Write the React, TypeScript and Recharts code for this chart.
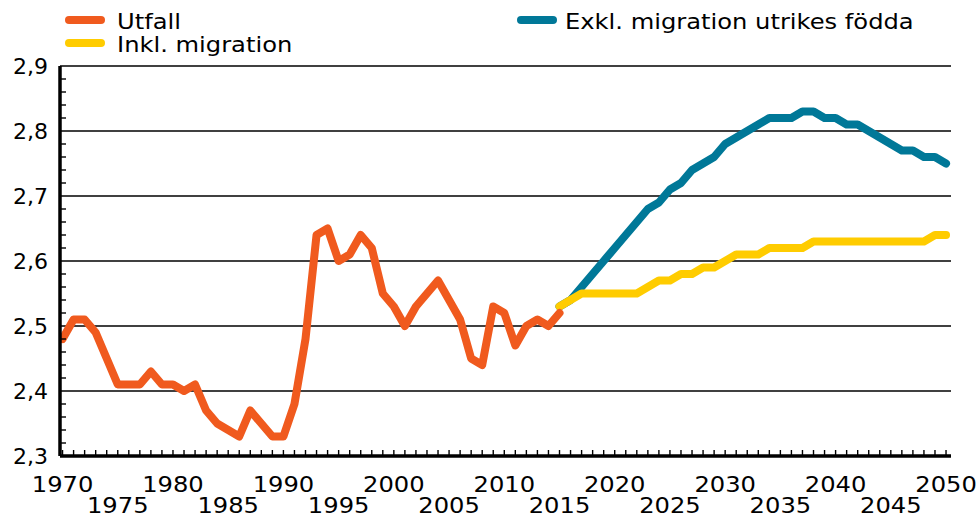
import React from "react";
import { LineChart, Line, XAxis, YAxis, CartesianGrid } from "recharts";

const utfallYears = [
  1970, 1971, 1972, 1973, 1974, 1975, 1976, 1977, 1978, 1979, 1980, 1981, 1982, 1983, 1984, 1985,
  1986, 1987, 1988, 1989, 1990, 1991, 1992, 1993, 1994, 1995, 1996, 1997, 1998, 1999, 2000, 2001,
  2002, 2003, 2004, 2005, 2006, 2007, 2008, 2009, 2010, 2011, 2012, 2013, 2014, 2015,
];
const utfall = [
  2.48, 2.51, 2.51, 2.49, 2.45, 2.41, 2.41, 2.41, 2.43, 2.41, 2.41, 2.4, 2.41, 2.37, 2.35, 2.34,
  2.33, 2.37, 2.35, 2.33, 2.33, 2.38, 2.48, 2.64, 2.65, 2.6, 2.61, 2.64, 2.62, 2.55, 2.53, 2.5,
  2.53, 2.55, 2.57, 2.54, 2.51, 2.45, 2.44, 2.53, 2.52, 2.47, 2.5, 2.51, 2.5, 2.52,
];

const prognosYears = [
  2015, 2016, 2017, 2018, 2019, 2020, 2021, 2022, 2023, 2024, 2025, 2026, 2027, 2028, 2029, 2030,
  2031, 2032, 2033, 2034, 2035, 2036, 2037, 2038, 2039, 2040, 2041, 2042, 2043, 2044, 2045, 2046,
  2047, 2048, 2049, 2050,
];
const inklMigration = [
  2.53, 2.54, 2.55, 2.55, 2.55, 2.55, 2.55, 2.55, 2.56, 2.57, 2.57, 2.58, 2.58, 2.59, 2.59, 2.6,
  2.61, 2.61, 2.61, 2.62, 2.62, 2.62, 2.62, 2.63, 2.63, 2.63, 2.63, 2.63, 2.63, 2.63, 2.63, 2.63,
  2.63, 2.63, 2.64, 2.64,
];
const exklMigration = [
  2.53, 2.54, 2.56, 2.58, 2.6, 2.62, 2.64, 2.66, 2.68, 2.69, 2.71, 2.72, 2.74, 2.75, 2.76, 2.78,
  2.79, 2.8, 2.81, 2.82, 2.82, 2.82, 2.83, 2.83, 2.82, 2.82, 2.81, 2.81, 2.8, 2.79, 2.78, 2.77,
  2.77, 2.76, 2.76, 2.75,
];

const xTicks = [
  1970, 1971, 1972, 1973, 1974, 1975, 1976, 1977, 1978, 1979, 1980, 1981, 1982, 1983, 1984, 1985,
  1986, 1987, 1988, 1989, 1990, 1991, 1992, 1993, 1994, 1995, 1996, 1997, 1998, 1999, 2000, 2001,
  2002, 2003, 2004, 2005, 2006, 2007, 2008, 2009, 2010, 2011, 2012, 2013, 2014, 2015, 2016, 2017,
  2018, 2019, 2020, 2021, 2022, 2023, 2024, 2025, 2026, 2027, 2028, 2029, 2030, 2031, 2032, 2033,
  2034, 2035, 2036, 2037, 2038, 2039, 2040, 2041, 2042, 2043, 2044, 2045, 2046, 2047, 2048, 2049,
  2050,
];
const yTicks = [
  2.3, 2.32, 2.34, 2.36, 2.38, 2.4, 2.42, 2.44, 2.46, 2.48, 2.5, 2.52, 2.54, 2.56, 2.58, 2.6,
  2.62, 2.64, 2.66, 2.68, 2.7, 2.72, 2.74, 2.76, 2.78, 2.8, 2.82, 2.84, 2.86, 2.88, 2.9,
];
const gridValues = [2.4, 2.5, 2.6, 2.7, 2.8, 2.9];

const COLORS = { utfall: "#F05A1E", inkl: "#FFCC00", exkl: "#007898" };
const FONT = "'DejaVu Sans', sans-serif";

const data = xTicks.map((year) => {
  const ui = utfallYears.indexOf(year);
  const pi = prognosYears.indexOf(year);
  return {
    year,
    utfall: ui >= 0 ? utfall[ui] : null,
    inkl: pi >= 0 ? inklMigration[pi] : null,
    exkl: pi >= 0 ? exklMigration[pi] : null,
  };
});

const XTick = (props: any) => {
  const { x, y, payload } = props;
  const yr = payload.value as number;
  return (
    <g>
      <line x1={x} x2={x} y1={y} y2={y - 6} stroke="#000" strokeWidth={1.4} />
      {yr % 5 === 0 && (
        <text
          transform={`translate(${x},${yr % 10 === 0 ? y + 36 : y + 57}) scale(1.1,1)`}
          x={0}
          y={0}
          textAnchor="middle"
          fontFamily={FONT}
          fontSize={22}
          fill="#000"
        >
          {yr}
        </text>
      )}
    </g>
  );
};

const YTick = (props: any) => {
  const { x, y, payload } = props;
  const v = payload.value as number;
  const major = Math.abs(v * 10 - Math.round(v * 10)) < 1e-6;
  return (
    <g>
      {!major && <line x1={x} x2={x + 6} y1={y} y2={y} stroke="#000" strokeWidth={1.4} />}
      {major && (
        <text
          x={x - 12}
          y={y + 8}
          textAnchor="end"
          fontFamily={FONT}
          fontSize={22}
          fill="#000"
        >
          {v.toFixed(1).replace(".", ",")}
        </text>
      )}
    </g>
  );
};

const legendItems = [
  { label: "Utfall", color: COLORS.utfall, x: 65, y: 20, tx: 117 },
  { label: "Inkl. migration", color: COLORS.inkl, x: 65, y: 43, tx: 117 },
  { label: "Exkl. migration utrikes födda", color: COLORS.exkl, x: 517, y: 20, tx: 565 },
];

export default function App() {
  return (
    <div style={{ position: "absolute", left: 0, top: 0, width: 979, height: 517, background: "#fff" }}>
      <LineChart
        width={979}
        height={517}
        data={data}
        margin={{ top: 66, right: 28, bottom: 31, left: 0 }}
      >
        <CartesianGrid
          horizontal={true}
          vertical={false}
          horizontalValues={gridValues}
          stroke="#000"
          strokeWidth={1.3}
        />
        <XAxis
          dataKey="year"
          type="number"
          domain={[1969.77, 2050.45]}
          ticks={xTicks}
          interval={0}
          height={30}
          tickSize={0}
          tickMargin={0}
          tickLine={false}
          tick={<XTick />}
          axisLine={{ stroke: "#000", strokeWidth: 3.5 }}
          allowDataOverflow
        />
        <YAxis
          type="number"
          domain={[2.3, 2.9]}
          ticks={yTicks}
          interval={0}
          width={60}
          tickSize={0}
          tickMargin={0}
          tickLine={false}
          tick={<YTick />}
          axisLine={{ stroke: "#000", strokeWidth: 3.5 }}
          allowDataOverflow
        />
        <Line
          dataKey="exkl"
          stroke={COLORS.exkl}
          strokeWidth={8}
          strokeLinecap="round"
          strokeLinejoin="round"
          dot={false}
          activeDot={false}
          isAnimationActive={false}
          type="linear"
        />
        <Line
          dataKey="inkl"
          stroke={COLORS.inkl}
          strokeWidth={8}
          strokeLinecap="round"
          strokeLinejoin="round"
          dot={false}
          activeDot={false}
          isAnimationActive={false}
          type="linear"
        />
        <Line
          dataKey="utfall"
          stroke={COLORS.utfall}
          strokeWidth={8}
          strokeLinecap="round"
          strokeLinejoin="round"
          dot={false}
          activeDot={false}
          isAnimationActive={false}
          type="linear"
        />
      </LineChart>
      <svg
        width={979}
        height={60}
        style={{ position: "absolute", left: 0, top: 0, pointerEvents: "none" }}
      >
        {legendItems.map((it) => (
          <g key={it.label}>
            <line
              x1={it.x + 4}
              x2={it.x + 36}
              y1={it.y}
              y2={it.y}
              stroke={it.color}
              strokeWidth={8}
              strokeLinecap="round"
            />
            <text
              transform={`translate(${it.tx},${it.y + 9}) scale(1.1,1)`}
              x={0}
              y={0}
              fontFamily={FONT}
              fontSize={22}
              fill="#000"
            >
              {it.label}
            </text>
          </g>
        ))}
      </svg>
    </div>
  );
}
